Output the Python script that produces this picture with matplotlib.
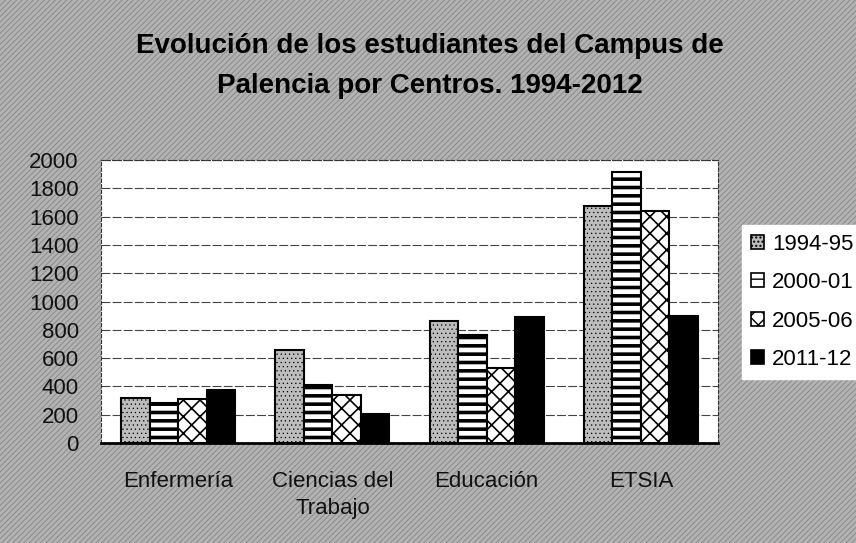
import numpy as np
import matplotlib
matplotlib.use('Agg')
import matplotlib.pyplot as plt
from matplotlib.patches import Rectangle, Patch

plt.rcParams['font.family'] = ['Liberation Sans', 'DejaVu Sans']

categories = ['Enfermería', 'Ciencias del\nTrabajo', 'Educación', 'ETSIA']
years = ['1994-95', '2000-01', '2005-06', '2011-12']
v1994 = [321, 654, 864, 1677]
v2000 = [283, 413, 765, 1915]
v2005 = [309, 338, 529, 1641]
v2011 = [378, 205, 893, 897]
series = [v1994, v2000, v2005, v2011]

# look of each series: facecolor, hatch, hatch linewidth
styles = [
    ('#bdbdbd', '....', 0.4),
    ('white', '--', 2.6),
    ('white', 'xx', 1.2),
    ('black', None, 1.0),
]

fig = plt.figure(figsize=(8.56, 5.43), dpi=100)
fig.patch.set_facecolor('#b3b3b3')
with plt.rc_context({'hatch.linewidth': 0.7}):
    bg = Rectangle((0, 0), 1, 1, transform=fig.transFigure, facecolor='#b3b3b3',
                   edgecolor='#8a8a8a', hatch='//////', linewidth=0, zorder=-10)
    fig.patches.append(bg)

ax = fig.add_axes([101 / 856, 1 - 443 / 543, 617 / 856, 283 / 543])
ax.set_facecolor('white')

x = np.arange(len(categories))
w = 0.185
for i, vals in enumerate(series):
    fc, hatch, hlw = styles[i]
    with plt.rc_context({'hatch.linewidth': hlw}):
        ax.bar(x + (i - 1.5) * w, vals, width=w, facecolor=fc, edgecolor='black',
               hatch=hatch, linewidth=1.5, zorder=3)

ax.set_xlim(-0.5, 3.5)
ax.set_ylim(0, 2000)
ax.set_yticks(np.arange(0, 2001, 200))
ax.yaxis.grid(True, color='#444444', linestyle=(0, (8, 2)), linewidth=0.8, zorder=0)
ax.set_axisbelow(True)

for side in ['left', 'top', 'right']:
    ax.spines[side].set_linestyle((0, (3, 2)))
    ax.spines[side].set_linewidth(0.8)
    ax.spines[side].set_color('#333333')
ax.spines['bottom'].set_linewidth(2)
ax.spines['bottom'].set_zorder(4)

ax.set_xticks(x)
ax.set_xticklabels(categories, fontsize=16, linespacing=1.4, color='#111111')
ax.tick_params(axis='x', length=0, pad=20)
ax.tick_params(axis='y', length=0, pad=16, labelsize=16, labelcolor='#111111')

fig.text(0.502, 1 - 53 / 543, 'Evolución de los estudiantes del Campus de',
         ha='center', va='baseline', fontsize=20, fontweight='bold')
fig.text(0.502, 1 - 93 / 543, 'Palencia por Centros. 1994-2012',
         ha='center', va='baseline', fontsize=20, fontweight='bold')

handles = []
for i, lab in enumerate(years):
    fc, hatch, hlw = styles[i]
    with plt.rc_context({'hatch.linewidth': min(hlw, 1.2)}):
        handles.append(Patch(facecolor=fc, edgecolor='black', hatch=hatch,
                             linewidth=1.2, label=lab))
leg = fig.legend(handles=handles, loc='upper left', bbox_to_anchor=(742 / 856, 1 - 225 / 543),
                 fontsize=16, frameon=True, fancybox=False, borderaxespad=0,
                 borderpad=0.4, handlelength=0.6, handleheight=0.6, handletextpad=0.35,
                 labelspacing=0.78)
leg.get_frame().set_facecolor('white')
leg.get_frame().set_edgecolor('white')
leg.get_frame().set_alpha(1)

fig.savefig('out.png', dpi=100, facecolor=fig.get_facecolor())
